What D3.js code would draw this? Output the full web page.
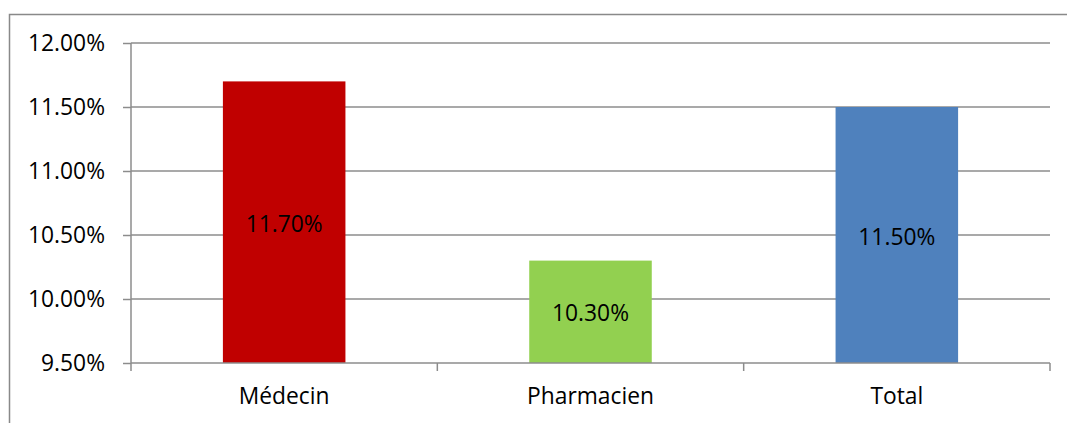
<!DOCTYPE html>
<html><head><meta charset="utf-8">
<script src="https://cdn.jsdelivr.net/npm/d3@7"></script>
<style>body{margin:0;background:#fff}svg{display:block}</style>
</head><body><svg id="c" width="1067" height="423"></svg>
<script>
const categories = ["Médecin", "Pharmacien", "Total"];
const values = [11.70, 10.30, 11.50];
const colors = ["#C00000", "#92D050", "#4F81BD"];
const yTicks = [9.5, 10, 10.5, 11, 11.5, 12];

const FONT = "Open Sans";
const FS = 22.8;
const svg = d3.select("#c");
const L = 131, R = 1050, T = 43, B = 363;
svg.append("rect").attr("x", 9.5).attr("y", 14.5).attr("width", 1070).attr("height", 420)
  .attr("fill", "none").attr("stroke", "#898989").attr("stroke-width", 1.5);

const x = d3.scaleBand().domain(categories).range([L, R]).padding(0);
const y = d3.scaleLinear().domain([9.5, 12]).range([B, T]);

svg.append("g").selectAll("line").data(yTicks.filter(t => t > 9.5)).join("line")
  .attr("x1", L).attr("x2", R).attr("y1", d => y(d)).attr("y2", d => y(d))
  .attr("stroke", "#8c8c8c").attr("stroke-width", 1.5);

const bw = x.bandwidth() * 0.4;
svg.append("g").selectAll("rect").data(categories).join("rect")
  .attr("x", d => x(d) + x.bandwidth() / 2 - bw / 2).attr("width", bw)
  .attr("y", (d, i) => y(values[i])).attr("height", (d, i) => B - y(values[i]))
  .attr("fill", (d, i) => colors[i]);

svg.append("g").selectAll("text").data(categories).join("text")
  .attr("x", d => x(d) + x.bandwidth() / 2)
  .attr("y", (d, i) => (y(values[i]) + B) / 2 + 1)
  .attr("text-anchor", "middle").attr("dominant-baseline", "central")
  .attr("font-size", FS).attr("font-family", FONT).attr("fill", "#000")
  .text((d, i) => values[i].toFixed(2) + "%");

const yAxis = svg.append("g").attr("transform", `translate(${L},0)`)
  .call(d3.axisLeft(y).tickValues(yTicks).tickSize(8).tickPadding(18).tickFormat(d => d.toFixed(2) + "%"));
yAxis.select(".domain").attr("stroke", "#8c8c8c").attr("stroke-width", 1.5).attr("d", `M0,${T}V${B}`);
yAxis.selectAll(".tick line").attr("stroke", "#8c8c8c").attr("stroke-width", 1.5);
yAxis.selectAll(".tick text").attr("font-size", FS).attr("fill", "#000").attr("font-family", FONT);

const xAxis = svg.append("g").attr("transform", `translate(0,${B})`)
  .call(d3.axisBottom(x).tickSize(0).tickPadding(25));
xAxis.select(".domain").attr("stroke", "#8c8c8c").attr("stroke-width", 1.5).attr("d", `M${L},0H${R}`);
xAxis.selectAll(".tick text").attr("font-size", FS).attr("fill", "#000").attr("font-family", FONT);
const xTickPos = [L, ...categories.map(c => x(c) + x.bandwidth())];
xAxis.append("g").selectAll("line").data(xTickPos).join("line")
  .attr("x1", d => d).attr("x2", d => d).attr("y1", 0).attr("y2", 8)
  .attr("stroke", "#8c8c8c").attr("stroke-width", 1.5);
</script></body></html>
